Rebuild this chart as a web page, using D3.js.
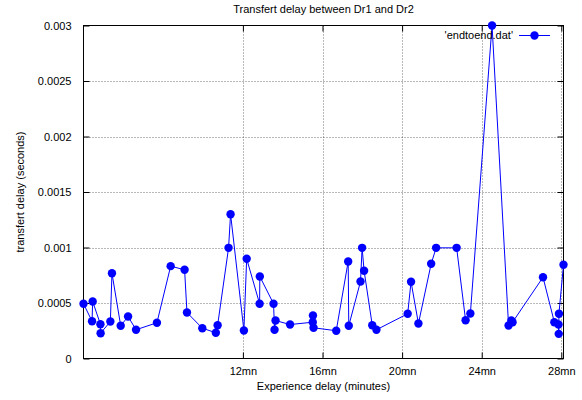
<!DOCTYPE html>
<html>
<head>
<meta charset="utf-8">
<script src="https://cdn.jsdelivr.net/npm/d3@7"></script>
<style>
  html, body { margin: 0; padding: 0; background: #fff; }
  svg { display: block; font-family: "Liberation Sans", Arial, sans-serif; }
</style>
</head>
<body>
<svg id="chart" width="582" height="400"></svg>
<script>
// ---- data ----
const minutes = [3.99, 4.42, 4.45, 4.84, 4.85, 5.34, 5.42, 5.86, 6.23, 6.63, 7.68, 8.37, 9.07, 9.19, 9.96, 10.64, 10.73, 11.28, 11.38, 12.05, 12.19, 12.84, 12.85, 13.54, 13.59, 13.64, 14.37, 15.51, 15.52, 15.55, 16.69, 17.29, 17.32, 17.91, 17.99, 18.09, 18.50, 18.71, 20.28, 20.45, 20.82, 21.46, 21.71, 22.74, 23.19, 23.43, 24.52, 25.35, 25.49, 25.55, 27.08, 27.65, 27.86, 27.87, 27.88, 28.11];
const delays = [0.000493, 0.000336, 0.000514, 0.000309, 0.000228, 0.000333, 0.000768, 0.000295, 0.000378, 0.000259, 0.000322, 0.000832, 0.000799, 0.000414, 0.000273, 0.000232, 0.0003, 0.000997, 0.0013, 0.000252, 0.000898, 0.000493, 0.000739, 0.000493, 0.000259, 0.000342, 0.000306, 0.000327, 0.000387, 0.000277, 0.00025, 0.000874, 0.000295, 0.000694, 0.000997, 0.00079, 0.0003, 0.000259, 0.000403, 0.000691, 0.000315, 0.000853, 0.000997, 0.000997, 0.000345, 0.000405, 0.003, 0.000297, 0.000342, 0.000327, 0.000732, 0.000327, 0.000306, 0.000222, 0.000403, 0.000844];
const xTickValues = [12, 16, 20, 24, 28];
const xTickLabels = ["12mn", "16mn", "20mn", "24mn", "28mn"];
const yTickValues = [0, 0.0005, 0.001, 0.0015, 0.002, 0.0025, 0.003];
const yTickLabels = ["0", "0.0005", "0.001", "0.0015", "0.002", "0.0025", "0.003"];
const xDomain = [3.99, 28.11];
const yDomain = [0, 0.003];
const titleText = "Transfert delay between Dr1 and Dr2";
const xLabelText = "Experience delay (minutes)";
const yLabelText = "transfert delay (seconds)";
const seriesName = "'endtoend.dat'";

// ---- layout ----
const L = 83.5, R = 563.5, T = 25.5, B = 358.5;
const svg = d3.select("#chart");
const x = d3.scaleLinear().domain(xDomain).range([L, R]);
const y = d3.scaleLinear().domain(yDomain).range([B, T]);
const data = minutes.map((m, i) => ({ m, v: delays[i] }));
const tickLen = 6;
const fs = 11;

// grid
const grid = svg.append("g").attr("stroke", "#000").attr("stroke-opacity", 0.55)
  .attr("stroke-dasharray", "1,2").attr("stroke-width", 1);
xTickValues.forEach(v => {
  const px = Math.round(x(v)) + 0.5;
  grid.append("line").attr("x1", px).attr("x2", px).attr("y1", T).attr("y2", B);
});
yTickValues.forEach(v => {
  if (v <= yDomain[0] || v >= yDomain[1]) return;
  const py = Math.round(y(v)) + 0.5;
  grid.append("line").attr("x1", L).attr("x2", R).attr("y1", py).attr("y2", py);
});

// axes with inward ticks (mirrored)
const xAxisB = d3.axisBottom(x).tickValues(xTickValues).tickSize(-tickLen).tickFormat((d, i) => xTickLabels[i]).tickPadding(tickLen + 3);
const xAxisT = d3.axisTop(x).tickValues(xTickValues).tickSize(-tickLen).tickFormat("");
const yAxisL = d3.axisLeft(y).tickValues(yTickValues).tickSize(-tickLen).tickFormat((d, i) => yTickLabels[i]).tickPadding(tickLen + 6);
const yAxisR = d3.axisRight(y).tickValues(yTickValues).tickSize(-tickLen).tickFormat("");

function styleAxis(g) {
  g.select(".domain").remove();
  g.selectAll(".tick line").attr("stroke", "#000");
  g.selectAll(".tick text").attr("fill", "#000").style("font-size", fs + "px").style("font-family", "Liberation Sans, Arial, sans-serif");
}
svg.append("g").attr("transform", `translate(0,${B})`).call(xAxisB).call(styleAxis);
svg.append("g").attr("transform", `translate(0,${T})`).call(xAxisT).call(styleAxis);
svg.append("g").attr("transform", `translate(${L},0)`).call(yAxisL).call(styleAxis);
svg.append("g").attr("transform", `translate(${R},0)`).call(yAxisR).call(styleAxis);

// border
svg.append("rect").attr("x", L).attr("y", T).attr("width", R - L).attr("height", B - T)
  .attr("fill", "none").attr("stroke", "#000").attr("stroke-width", 1);

// series
const line = d3.line().x(d => x(d.m)).y(d => y(d.v));
svg.append("path").datum(data).attr("d", line).attr("fill", "none").attr("stroke", "#0000ff").attr("stroke-width", 1);
svg.append("g").selectAll("circle").data(data).join("circle")
  .attr("cx", d => x(d.m)).attr("cy", d => y(d.v)).attr("r", 4.2).attr("fill", "#0000ff");

// legend
const lg = svg.append("g");
lg.append("text").attr("x", 513).attr("y", 39).attr("text-anchor", "end").style("font-size", fs + "px").attr("fill", "#000").text(seriesName);
lg.append("line").attr("x1", 519).attr("x2", 550).attr("y1", 35.5).attr("y2", 35.5).attr("stroke", "#0000ff").attr("stroke-width", 1);
lg.append("circle").attr("cx", 534.5).attr("cy", 35.5).attr("r", 4.2).attr("fill", "#0000ff");

// titles
svg.append("text").attr("x", (L + R) / 2).attr("y", 13).attr("text-anchor", "middle").style("font-size", fs + "px").attr("fill", "#000").text(titleText);
svg.append("text").attr("x", (L + R) / 2).attr("y", 390).attr("text-anchor", "middle").style("font-size", fs + "px").attr("fill", "#000").text(xLabelText);
svg.append("text").attr("transform", `translate(24,${(T + B) / 2}) rotate(-90)`).attr("text-anchor", "middle").style("font-size", fs + "px").attr("fill", "#000").text(yLabelText);
</script>
</body>
</html>
